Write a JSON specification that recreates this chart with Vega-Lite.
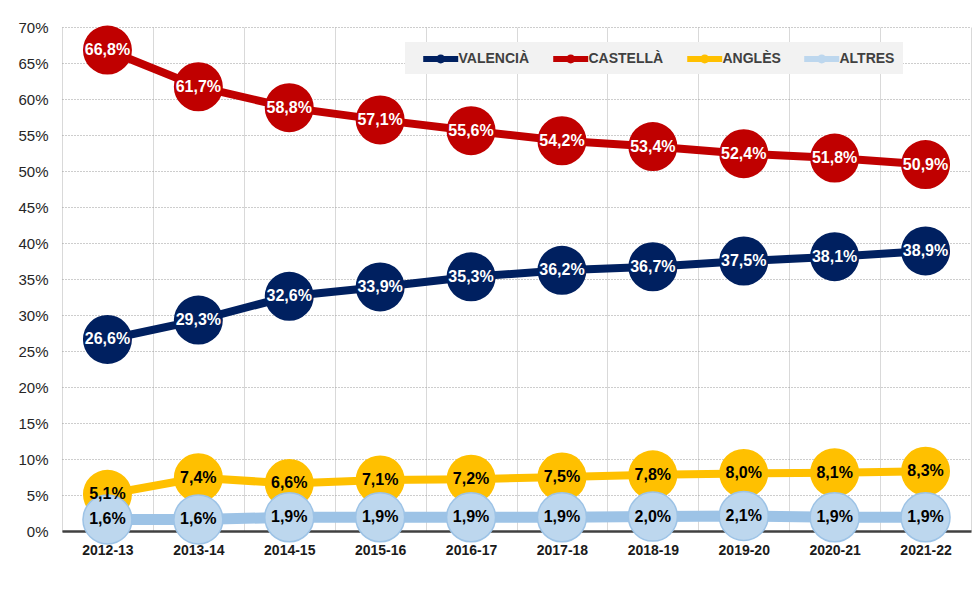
{
  "$schema": "https://vega.github.io/schema/vega-lite/v6.json",
  "width": 909,
  "height": 504,
  "autosize": {"type": "none"},
  "padding": {"left": 62, "top": 27, "right": 4, "bottom": 79},
  "background": "white",
  "config": {
    "locale": {"number": {"decimal": ",", "thousands": ".", "grouping": [3], "currency": ["", " €"]}},
    "view": {"stroke": null},
    "font": "Liberation Sans"
  },
  "data": {
    "values": [
      {"curs": "2012-13", "lang": "VALENCIÀ", "pct": 0.266},
      {"curs": "2013-14", "lang": "VALENCIÀ", "pct": 0.293},
      {"curs": "2014-15", "lang": "VALENCIÀ", "pct": 0.326},
      {"curs": "2015-16", "lang": "VALENCIÀ", "pct": 0.339},
      {"curs": "2016-17", "lang": "VALENCIÀ", "pct": 0.353},
      {"curs": "2017-18", "lang": "VALENCIÀ", "pct": 0.362},
      {"curs": "2018-19", "lang": "VALENCIÀ", "pct": 0.367},
      {"curs": "2019-20", "lang": "VALENCIÀ", "pct": 0.375},
      {"curs": "2020-21", "lang": "VALENCIÀ", "pct": 0.381},
      {"curs": "2021-22", "lang": "VALENCIÀ", "pct": 0.389},
      {"curs": "2012-13", "lang": "CASTELLÀ", "pct": 0.668},
      {"curs": "2013-14", "lang": "CASTELLÀ", "pct": 0.617},
      {"curs": "2014-15", "lang": "CASTELLÀ", "pct": 0.588},
      {"curs": "2015-16", "lang": "CASTELLÀ", "pct": 0.571},
      {"curs": "2016-17", "lang": "CASTELLÀ", "pct": 0.556},
      {"curs": "2017-18", "lang": "CASTELLÀ", "pct": 0.542},
      {"curs": "2018-19", "lang": "CASTELLÀ", "pct": 0.534},
      {"curs": "2019-20", "lang": "CASTELLÀ", "pct": 0.524},
      {"curs": "2020-21", "lang": "CASTELLÀ", "pct": 0.518},
      {"curs": "2021-22", "lang": "CASTELLÀ", "pct": 0.509},
      {"curs": "2012-13", "lang": "ANGLÈS", "pct": 0.051},
      {"curs": "2013-14", "lang": "ANGLÈS", "pct": 0.074},
      {"curs": "2014-15", "lang": "ANGLÈS", "pct": 0.066},
      {"curs": "2015-16", "lang": "ANGLÈS", "pct": 0.071},
      {"curs": "2016-17", "lang": "ANGLÈS", "pct": 0.072},
      {"curs": "2017-18", "lang": "ANGLÈS", "pct": 0.075},
      {"curs": "2018-19", "lang": "ANGLÈS", "pct": 0.078},
      {"curs": "2019-20", "lang": "ANGLÈS", "pct": 0.080},
      {"curs": "2020-21", "lang": "ANGLÈS", "pct": 0.081},
      {"curs": "2021-22", "lang": "ANGLÈS", "pct": 0.083},
      {"curs": "2012-13", "lang": "ALTRES", "pct": 0.016},
      {"curs": "2013-14", "lang": "ALTRES", "pct": 0.016},
      {"curs": "2014-15", "lang": "ALTRES", "pct": 0.019},
      {"curs": "2015-16", "lang": "ALTRES", "pct": 0.019},
      {"curs": "2016-17", "lang": "ALTRES", "pct": 0.019},
      {"curs": "2017-18", "lang": "ALTRES", "pct": 0.019},
      {"curs": "2018-19", "lang": "ALTRES", "pct": 0.020},
      {"curs": "2019-20", "lang": "ALTRES", "pct": 0.021},
      {"curs": "2020-21", "lang": "ALTRES", "pct": 0.019},
      {"curs": "2021-22", "lang": "ALTRES", "pct": 0.019}
    ]
  },
  "encoding": {
    "x": {
      "field": "curs",
      "type": "ordinal",
      "title": null,
      "bandPosition": 0.5,
      "scale": {"type": "band", "paddingInner": 0, "paddingOuter": 0},
      "axis": {
        "tickBand": "extent",
        "grid": true,
        "gridColor": "#d9d9d9",
        "gridWidth": 1,
        "domain": true,
        "domainColor": "#404040",
        "domainWidth": 2.5,
        "ticks": false,
        "labelAngle": 0,
        "labelFontWeight": "bold",
        "labelFontSize": 14,
        "labelColor": "#1a1a1a",
        "labelPadding": 12
      }
    },
    "y": {
      "field": "pct",
      "type": "quantitative",
      "title": null,
      "scale": {"domain": [0, 0.7], "nice": false},
      "axis": {
        "values": [0, 0.05, 0.1, 0.15, 0.2, 0.25, 0.3, 0.35, 0.4, 0.45, 0.5, 0.55, 0.6, 0.65, 0.7],
        "format": ".0%",
        "grid": true,
        "gridDash": [1, 2],
        "gridColor": "#9a9a9a",
        "domain": false,
        "ticks": false,
        "labelFontSize": 15,
        "labelColor": "#262626",
        "labelPadding": 14
      }
    }
  },
  "layer": [
    {
      "mark": {"type": "line", "strokeCap": "butt"},
      "encoding": {
        "stroke": {
          "field": "lang",
          "type": "nominal",
          "scale": {"domain": ["VALENCIÀ", "CASTELLÀ", "ANGLÈS", "ALTRES"], "range": ["#002060", "#C00000", "#FFC000", "#9DC3E6"]},
          "legend": {
            "title": null,
            "orient": "none",
            "legendX": 343,
            "legendY": 15,
            "direction": "horizontal",
            "fillColor": "#f2f2f2",
            "padding": 8,
            "symbolType": "M0.14,-0.34 L4.14,-0.34 L4.14,0.34 L0.14,0.34 Z M1.63,0 A0.51,0.51 0 1,1 2.65,0 A0.51,0.51 0 1,1 1.63,0 Z",
            "symbolSize": 306,
            "symbolStrokeWidth": 0,
            "symbolOpacity": 1,
            "labelOffset": 27.5,
            "columnPadding": 13,
            "labelFontSize": 14,
            "labelFontWeight": "bold",
            "labelColor": "#404040",
            "encode": {"symbols": {"update": {"fill": {"scale": "stroke", "field": "value"}}}}
          }
        },
        "strokeWidth": {"condition": {"test": "datum.lang === 'ALTRES'", "value": 11}, "value": 8}
      }
    },
    {
      "mark": {"type": "circle", "size": 2400, "opacity": 1},
      "encoding": {
        "fill": {
          "field": "lang",
          "type": "nominal",
          "scale": {"domain": ["VALENCIÀ", "CASTELLÀ", "ANGLÈS", "ALTRES"], "range": ["#002060", "#C00000", "#FFC000", "#BDD7EE"]},
          "legend": null
        }
      }
    },
    {
      "transform": [{"filter": {"field": "lang", "equal": "ALTRES"}}],
      "mark": {"type": "circle", "size": 2400, "filled": false, "stroke": "#9DC3E6", "strokeWidth": 1.5, "opacity": 1},
      "encoding": {}
    },
    {
      "transform": [{"filter": {"field": "lang", "oneOf": ["VALENCIÀ", "CASTELLÀ"]}}],
      "mark": {"type": "text", "fontWeight": "bold", "fontSize": 16, "color": "white"},
      "encoding": {"text": {"field": "pct", "type": "quantitative", "format": ".1%"}}
    },
    {
      "transform": [{"filter": {"field": "lang", "oneOf": ["ANGLÈS", "ALTRES"]}}],
      "mark": {"type": "text", "fontWeight": "bold", "fontSize": 16, "color": "black"},
      "encoding": {"text": {"field": "pct", "type": "quantitative", "format": ".1%"}}
    }
  ]
}
